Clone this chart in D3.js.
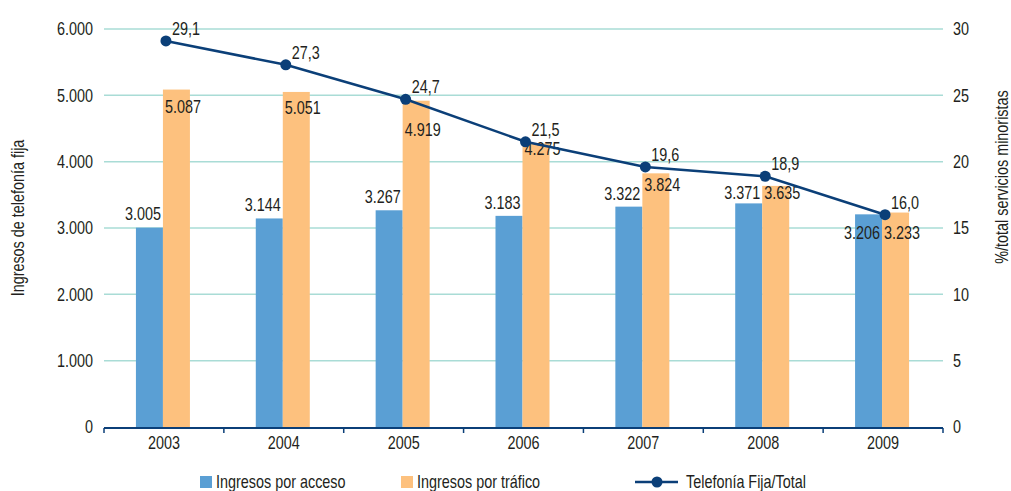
<!DOCTYPE html>
<html>
<head>
<meta charset="utf-8">
<script src="https://cdn.jsdelivr.net/npm/d3@7"></script>
<style>
  body { margin: 0; background: #fff; }
  text { font-family: "Liberation Sans", Arial, sans-serif; font-size: 18px; fill: #231f20; }
</style>
</head>
<body>
<svg id="chart" width="1011" height="491"></svg>
<script>
// datos
var anios = ["2003", "2004", "2005", "2006", "2007", "2008", "2009"];
var ingresosAcceso = [3005, 3144, 3267, 3183, 3322, 3371, 3206];
var ingresosTrafico = [5087, 5051, 4919, 4275, 3824, 3635, 3233];
var telefoniaFija = [29.1, 27.3, 24.7, 21.5, 19.6, 18.9, 16.0];
var ticksIzq = [0, 1000, 2000, 3000, 4000, 5000, 6000];
var ticksDer = [0, 5, 10, 15, 20, 25, 30];

// ajustes de etiquetas (como en el original, colocadas a mano)
var dyTrafico = [23, 22, 35, 12, 18, 13, 26];
var dyAcceso = [-8, -7, -7, -7, -7, -4, 25];

var azul = "#5a9fd4", naranja = "#fdc17e", linea = "#0b3f78", rejilla = "#a9dcd6";
var estrecho = 0.8; // fuente condensada: se comprime en horizontal

var svg = d3.select("svg"),
    margin = {top: 29, right: 68, bottom: 64, left: 104},
    width = +svg.attr("width") - margin.left - margin.right,
    height = +svg.attr("height") - margin.top - margin.bottom,
    g = svg.append("g").attr("transform", "translate(" + margin.left + "," + margin.top + ")");

// coloca un texto comprimido en (fx, fy)
function pos(sel, fx, fy, rot) {
  sel.attr("transform", function(d, i) {
    return "translate(" + fx(d, i) + "," + fy(d, i) + ")" + (rot ? " rotate(" + rot + ")" : "") + " scale(" + estrecho + ",1)";
  });
  return sel;
}

var x = d3.scaleBand().domain(anios).range([0, width]).padding(0);
var y = d3.scaleLinear().domain([0, 6000]).range([height, 0]);
var y2 = d3.scaleLinear().domain([0, 30]).range([height, 0]);
var fmt = d3.formatLocale({decimal: ",", thousands: ".", grouping: [3], currency: ["", "€"]});
var miles = fmt.format(",d"), dec = fmt.format(",.1f");
var barW = 27;

// rejilla
g.append("g").selectAll("line")
  .data(ticksIzq.slice(1))
  .enter().append("line")
    .attr("x1", 0).attr("x2", width)
    .attr("y1", function(d) { return y(d); })
    .attr("y2", function(d) { return y(d); })
    .attr("stroke", rejilla)
    .attr("stroke-width", 1.5);

// eje izquierdo
pos(g.append("g").selectAll("text")
  .data(ticksIzq)
  .enter().append("text")
    .attr("dy", "0.35em")
    .attr("text-anchor", "end")
    .text(function(d) { return miles(d); }),
  function() { return -11; }, function(d) { return y(d); });

// eje derecho
pos(g.append("g").selectAll("text")
  .data(ticksDer)
  .enter().append("text")
    .attr("dy", "0.35em")
    .attr("text-anchor", "start")
    .text(function(d) { return d; }),
  function() { return width + 10; }, function(d) { return y2(d); });

// barras
var grupos = g.append("g").selectAll("g")
  .data(anios)
  .enter().append("g")
    .attr("transform", function(d) { return "translate(" + (x(d) + x.bandwidth() / 2 - 1) + ",0)"; });

grupos.append("rect")
  .attr("x", -barW)
  .attr("y", function(d, i) { return y(ingresosAcceso[i]); })
  .attr("width", barW)
  .attr("height", function(d, i) { return height - y(ingresosAcceso[i]); })
  .attr("fill", azul);

grupos.append("rect")
  .attr("x", 0)
  .attr("y", function(d, i) { return y(ingresosTrafico[i]); })
  .attr("width", barW)
  .attr("height", function(d, i) { return height - y(ingresosTrafico[i]); })
  .attr("fill", naranja);

pos(grupos.append("text")
  .attr("text-anchor", "end")
  .text(function(d, i) { return miles(ingresosAcceso[i]); }),
  function() { return -2; }, function(d, i) { return y(ingresosAcceso[i]) + dyAcceso[i]; });

pos(grupos.append("text")
  .attr("text-anchor", "start")
  .text(function(d, i) { return miles(ingresosTrafico[i]); }),
  function() { return 2; }, function(d, i) { return y(ingresosTrafico[i]) + dyTrafico[i]; });

// eje x
var ejeX = g.append("g").attr("transform", "translate(0," + height + ")");
ejeX.append("line")
  .attr("x1", 0).attr("x2", width).attr("y1", 1).attr("y2", 1)
  .attr("stroke", linea).attr("stroke-width", 2);
ejeX.selectAll(".tk")
  .data(d3.range(anios.length + 1))
  .enter().append("line")
    .attr("class", "tk")
    .attr("x1", function(i) { return i * x.step(); })
    .attr("x2", function(i) { return i * x.step(); })
    .attr("y1", 1).attr("y2", 6)
    .attr("stroke", linea).attr("stroke-width", 1.5);
pos(ejeX.selectAll("text")
  .data(anios)
  .enter().append("text")
    .attr("text-anchor", "middle")
    .text(function(d) { return d; }),
  function(d) { return x(d) + x.bandwidth() / 2; }, function() { return 22; });

// línea
var cx = function(d, i) { return x(anios[i]) + x.bandwidth() / 2 + 2; };
var lineaGen = d3.line()
  .x(function(d, i) { return cx(d, i); })
  .y(function(d) { return y2(d); });

g.append("path")
  .datum(telefoniaFija)
  .attr("d", lineaGen)
  .attr("fill", "none")
  .attr("stroke", linea)
  .attr("stroke-width", 2.5);

g.append("g").selectAll("circle")
  .data(telefoniaFija)
  .enter().append("circle")
    .attr("cx", cx)
    .attr("cy", function(d) { return y2(d); })
    .attr("r", 5.5)
    .attr("fill", linea);

pos(g.append("g").selectAll("text")
  .data(telefoniaFija)
  .enter().append("text")
    .text(function(d) { return dec(d); }),
  function(d, i) { return cx(d, i) + 6; }, function(d) { return y2(d) - 6; });

// títulos de ejes
pos(svg.append("text")
  .attr("text-anchor", "middle")
  .text("Ingresos de telefonía fija"),
  function() { return 24; }, function() { return 218; }, -90);

pos(svg.append("text")
  .attr("text-anchor", "middle")
  .text("%/total servicios minoristas"),
  function() { return 1008; }, function() { return 177; }, -90);

// leyenda
var ley = svg.append("g").attr("transform", "translate(0,482)");
ley.append("rect").attr("x", 200).attr("y", -6).attr("width", 12).attr("height", 12).attr("fill", azul);
pos(ley.append("text").attr("dy", "0.35em").text("Ingresos por acceso"), function() { return 216; }, function() { return 0; });
ley.append("rect").attr("x", 401).attr("y", -6).attr("width", 12).attr("height", 12).attr("fill", naranja);
pos(ley.append("text").attr("dy", "0.35em").text("Ingresos por tráfico"), function() { return 417; }, function() { return 0; });
ley.append("line").attr("x1", 635).attr("x2", 678).attr("y1", 0).attr("y2", 0).attr("stroke", linea).attr("stroke-width", 2.5);
ley.append("circle").attr("cx", 657).attr("cy", 0).attr("r", 5.5).attr("fill", linea);
pos(ley.append("text").attr("dy", "0.35em").text("Telefonía Fija/Total"), function() { return 686; }, function() { return 0; });
</script>
</body>
</html>
